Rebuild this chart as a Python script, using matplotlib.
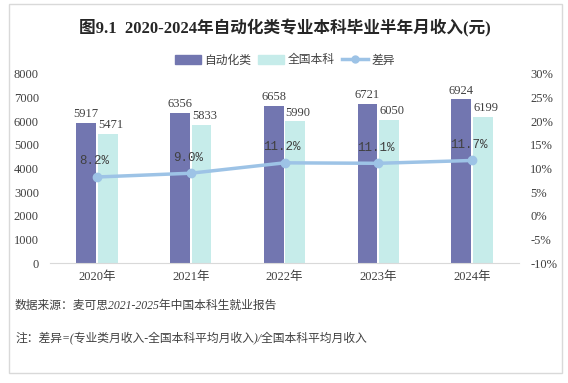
import matplotlib
matplotlib.use("Agg")
import matplotlib.pyplot as plt
from matplotlib.patches import Rectangle
from matplotlib.lines import Line2D
import numpy as np

years = ["2020年", "2021年", "2022年", "2023年", "2024年"]
major_income = [5917, 6356, 6658, 6721, 6924]
national_income = [5471, 5833, 5990, 6050, 6199]
diff_pct = [8.2, 9.0, 11.2, 11.1, 11.7]
diff_labels = ["8.2%", "9.0%", "11.2%", "11.1%", "11.7%"]
left_ticks = [0, 1000, 2000, 3000, 4000, 5000, 6000, 7000, 8000]
right_ticks = [-10, -5, 0, 5, 10, 15, 20, 25, 30]

title = "图9.1  2020-2024年自动化类专业本科毕业半年月收入(元)"
source = "数据来源：麦可思2021-2025年中国本科生就业报告"
note = "注：差异=(专业类月收入-全国本科平均月收入)/全国本科平均月收入"

CJK = "Noto Sans CJK SC"
SERIF = ["Liberation Serif", CJK]
plt.rcParams["font.family"] = ["Liberation Serif", CJK, "DejaVu Sans"]

purple = "#7276B0"
teal = "#C6ECEA"
lineblue = "#9DC3E6"
txt = "#404040"

fig = plt.figure(figsize=(5.68, 3.83), dpi=100)
W, H = 568, 383

# frame
fig.add_artist(Rectangle((9 / W, 1 - 373 / H), (562 - 9) / W, (373 - 4) / H,
                         transform=fig.transFigure, fill=False,
                         edgecolor="#D9D9D9", linewidth=1.0))

ax = fig.add_axes([50 / W, 1 - 263 / H, (519 - 50) / W, (263 - 74) / H])
x = np.arange(len(years))
bw = 0.21
gap = 0.02
b1 = ax.bar(x - bw / 2 - gap / 2, major_income, width=bw, color=purple, zorder=2)
b2 = ax.bar(x + bw / 2 + gap / 2, national_income, width=bw, color=teal, zorder=2)
ax.set_xlim(-0.5, len(years) - 0.5)
ax.set_ylim(0, 8000)
ax.set_yticks(left_ticks)
ax.set_yticklabels([str(v) for v in left_ticks], fontsize=9, color=txt)
ax.set_xticks(x)
ax.set_xticklabels(years, fontsize=9, color=txt)
for s in ["top", "right", "left"]:
    ax.spines[s].set_visible(False)
ax.spines["bottom"].set_color("#D9D9D9")
ax.tick_params(axis="both", length=0, pad=6)
ax.tick_params(axis="y", pad=8)

for rect, v in zip(b1, major_income):
    ax.annotate(str(v), (rect.get_x() + rect.get_width() / 2, v),
                xytext=(0, 2), textcoords="offset points",
                ha="center", va="bottom", fontsize=9, color=txt)
for rect, v in zip(b2, national_income):
    ax.annotate(str(v), (rect.get_x() + rect.get_width() / 2, v),
                xytext=(2, 2), textcoords="offset points",
                ha="center", va="bottom", fontsize=9, color=txt)

ax2 = ax.twinx()
ax2.set_ylim(-10, 30)
ax2.set_yticks(right_ticks)
ax2.set_yticklabels([f"{v}%" for v in right_ticks], fontsize=9, color=txt)
for s in ["top", "right", "left", "bottom"]:
    ax2.spines[s].set_visible(False)
ax2.tick_params(axis="y", length=0, pad=8)
ax2.plot(x, diff_pct, color=lineblue, linewidth=2.5, marker="o",
         markersize=6, zorder=3)
for xi, v, lab in zip(x, diff_pct, diff_labels):
    ax2.annotate(lab, (xi, v), xytext=(-2, 7), textcoords="offset points",
                 ha="center", va="bottom", fontsize=9, color=txt,
                 family=["Liberation Mono", CJK])

fig.text(285 / W, 1 - 28 / H, title, ha="center", va="center",
         fontsize=12, fontweight="bold", color="#262626",
         family=["Liberation Serif", CJK])

handles = [Rectangle((0, 0), 1, 1, color=purple),
           Rectangle((0, 0), 1, 1, color=teal),
           Line2D([0], [0], color=lineblue, linewidth=2.5, marker="o", markersize=5)]
fig.legend(handles, ["自动化类", "全国本科", "差异"], loc="center",
           bbox_to_anchor=(285 / W, 1 - 60 / H), ncol=3, frameon=False,
           prop={"family": CJK, "size": 8.5}, handlelength=2.2,
           handletextpad=0.3, columnspacing=0.6, labelcolor=txt)

fig.text(15 / W, 1 - 306 / H, source, ha="left", va="center", fontsize=8.5,
         style="italic", color=txt, family=["Liberation Serif", CJK])
fig.text(15 / W, 1 - 339 / H, note, ha="left", va="center", fontsize=8.5,
         style="italic", color=txt, family=["Liberation Serif", CJK])

fig.savefig("out.png", dpi=100)
